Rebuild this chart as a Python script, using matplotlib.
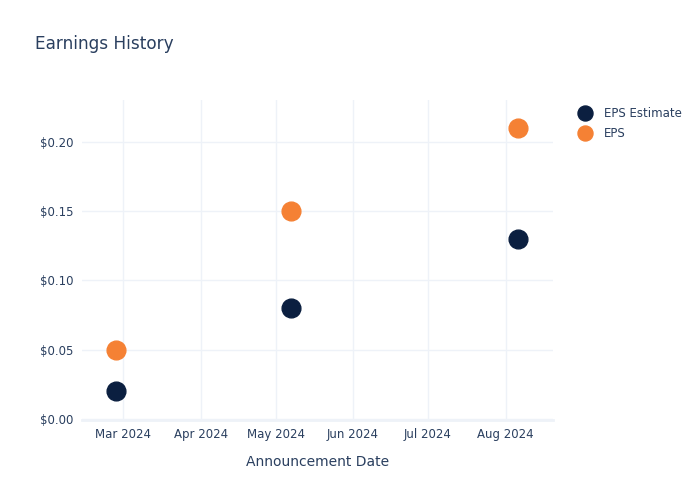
import matplotlib
matplotlib.use("Agg")
import matplotlib.pyplot as plt
import matplotlib.dates as mdates
import numpy as np
from datetime import datetime

# data
dates = ["2024-02-27", "2024-05-07", "2024-08-06"]
eps_estimate = [0.02, 0.08, 0.13]
eps_actual = [0.05, 0.15, 0.21]

text_color = "#2a3f5f"
grid_color = "#eef2f8"
navy = "#0b1f40"
orange = "#f58134"

x = [datetime.strptime(d, "%Y-%m-%d") for d in dates]

fig = plt.figure(figsize=(7, 5), dpi=100)
ax = fig.add_axes([0.117, 0.16, 0.673, 0.64])

ax.plot(x, eps_estimate, "o", color=navy, ms=13.5, label="EPS Estimate", zorder=3)
ax.plot(x, eps_actual, "o", color=orange, ms=13.5, label="EPS", zorder=3)

ax.set_xlim(datetime(2024, 2, 13, 12), datetime(2024, 8, 20))
ax.set_ylim(-0.001, 0.2305)

ax.xaxis.set_major_locator(mdates.MonthLocator())
ax.xaxis.set_major_formatter(mdates.DateFormatter("%b %Y"))
ax.set_yticks([0, 0.05, 0.10, 0.15, 0.20])
ax.yaxis.set_major_formatter(plt.FuncFormatter(lambda v, p: f"${v:.2f}"))

ax.grid(True, color=grid_color, linewidth=1)
ax.set_axisbelow(True)
for s in ["top", "right", "left"]:
    ax.spines[s].set_visible(False)
ax.spines["bottom"].set_color(grid_color)
ax.spines["bottom"].set_linewidth(2)
ax.tick_params(length=0, labelsize=8.5, labelcolor=text_color, pad=6)

ax.set_xlabel("Announcement Date", fontsize=10, color=text_color, labelpad=10)

fig.text(0.05, 0.912, "Earnings History", fontsize=12.2, color=text_color, va="center")

leg = ax.legend(loc="upper left", bbox_to_anchor=(1.02, 1.012), frameon=False,
                fontsize=8.5, labelcolor=text_color, handletextpad=0.6,
                labelspacing=0.62, markerscale=0.8)

fig.savefig("out.png", dpi=100)
